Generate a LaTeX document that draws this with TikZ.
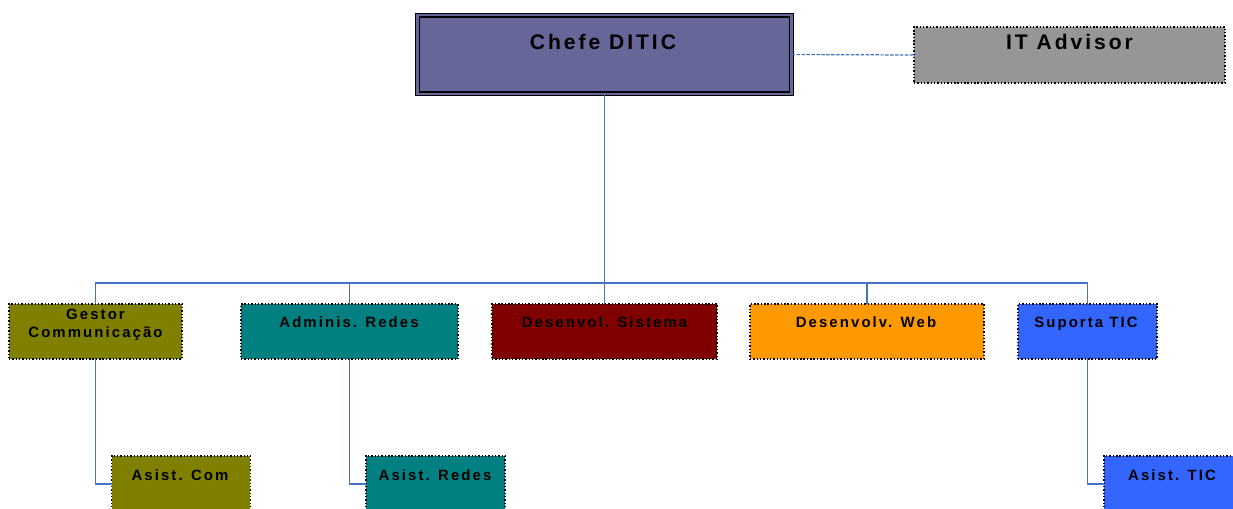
\documentclass[tikz,border=0pt]{standalone}
\usepackage{fontspec}
\setmainfont{Liberation Sans}
\newfontfamily\orgfont[LetterSpace=14]{Liberation Sans}
\usetikzlibrary{calc}
\definecolor{chefeblue}{HTML}{666699}
\definecolor{advisorgray}{HTML}{969696}
\definecolor{comolive}{HTML}{808000}
\definecolor{redesteal}{HTML}{008080}
\definecolor{sistemamaroon}{HTML}{800000}
\definecolor{weborange}{HTML}{FF9900}
\definecolor{ticblue}{HTML}{3366FF}
\definecolor{linkblue}{RGB}{68,114,196}

\begin{document}
\begin{tikzpicture}[x=0.02cm, y=-0.02cm]
		
		\tikzstyle{every node}=[font=\orgfont\bfseries\fontsize{8.5}{10.2}\selectfont]
		\tikzstyle{orgunit}=[draw=black, line width=0.8pt, dash pattern=on 0.8pt off 1.1pt, inner sep=0pt, outer sep=0pt, minimum height=1.1cm]
		\tikzstyle{asist}=[orgunit, minimum height=1.12cm, minimum width=2.78cm]
		\tikzstyle{unittxt}=[anchor=base, inner sep=0pt, align=center]
		\tikzstyle{bigtxt}=[unittxt, font=\orgfont\bfseries\fontsize{12}{14}\selectfont]
		\tikzstyle{link}=[draw=linkblue, line width=0.7pt]
		
		\useasboundingbox (0,0) rectangle (1233,508);
		\clip (0,0) rectangle (1233,508);
		%\draw[style=help lines, step=1cm, color=gray] (0,0) grid (1233,508);
		
		% top
		\node[draw=black, double=chefeblue, double distance=1.4pt, line width=0.65pt, fill=chefeblue, inner sep=0pt, outer sep=0pt, minimum width=7.49cm, minimum height=1.57cm] (chefe) at (604.5,54.5) {};
		\node[bigtxt] (chefetxt) at (603,49) {Chefe DITIC};
		
		\node[orgunit, fill=advisorgray, minimum width=6.22cm, minimum height=1.12cm] (advisor) at (1069.5,55) {};
		\node[bigtxt] (advisortxt) at (1069.5,49) {IT Advisor};
		
		% departments
		\node[orgunit, fill=comolive, minimum width=3.46cm] (gestor) at (95.5,331.5) {};
		\node[unittxt] (gestortxt) at (95.5,337) {Gestor\\Communicação};
		
		\node[orgunit, fill=redesteal, minimum width=4.34cm] (adminis) at (349.5,331.5) {};
		\node[unittxt] (administxt) at (349,327) {Adminis. Redes};
		
		\node[orgunit, fill=sistemamaroon, minimum width=4.5cm] (sistema) at (604.5,331.5) {};
		\node[unittxt] (sistematxt) at (604.5,327) {Desenvol. Sistema};
		
		\node[orgunit, fill=weborange, minimum width=4.68cm] (web) at (867,331.5) {};
		\node[unittxt] (webtxt) at (866,327) {Desenvolv. Web};
		
		\node[orgunit, fill=ticblue, minimum width=2.78cm] (suporta) at (1087.5,331.5) {};
		\node[unittxt] (suportatxt) at (1086,327) {Suporta TIC};
		
		% assistants
		\node[asist, fill=comolive] (asistcom) at (181,484) {};
		\node[unittxt] (asistcomtxt) at (180,480) {Asist. Com};
		
		\node[asist, fill=redesteal] (asistredes) at (435.5,484) {};
		\node[unittxt] (asistredestxt) at (435,480) {Asist. Redes};
		
		\node[asist, fill=ticblue] (asisttic) at (1173.5,484) {};
		\node[unittxt] (asistticitxt) at (1172,480) {Asist. TIC};
		
		% connectors
		\coordinate (bus) at (604.5,283);
		\draw[link] (chefe.south) -- (bus);
		\foreach \u in {gestor,adminis,sistema,web,suporta}
			\draw[link] (\u.north) |- (bus);
		\draw[link, dash pattern=on 2pt off 0.8pt] (chefe.east) -- (advisor.west);
		
		\draw[link] (gestor.south) |- (asistcom.west);
		\draw[link] (adminis.south) |- (asistredes.west);
		\draw[link] (suporta.south) |- (asisttic.west);
		
\end{tikzpicture}
\end{document}
